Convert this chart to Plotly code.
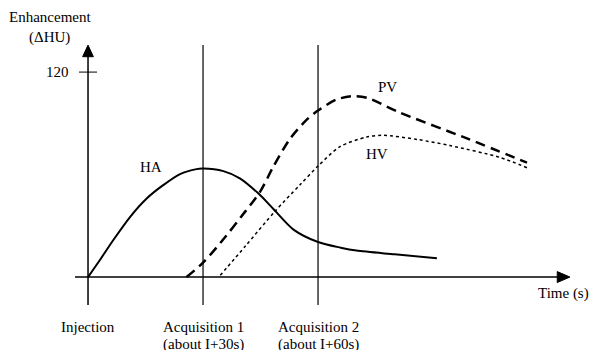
import plotly.graph_objects as go

# curves: time (s) vs enhancement (delta HU)
ha_t = [0, 3.1, 6.6, 11, 15.3, 19.6, 24, 28.3, 30, 35.3, 39.6, 44.4, 48.3, 53.6, 60, 65.9, 70, 80, 91]
ha_v = [0, 10, 21.7, 35.3, 46, 53.8, 60.3, 63.2, 63.5, 62, 57.8, 49, 40, 27.8, 20.5, 17.2, 15.5, 13.3, 11]

pv_t = [25.7, 30, 36, 40, 44.9, 48.3, 52.7, 57, 60, 64.9, 69.2, 72.7, 81, 99, 114.5]
pv_v = [0, 8.4, 24, 35.5, 50, 64.5, 81, 92, 97.5, 104, 105.9, 105, 96.6, 81, 67]

hv_t = [34.5, 41, 48.8, 55.3, 60, 65.7, 72.7, 77, 86, 94.4, 107.5, 114.5]
hv_v = [1, 18, 38.6, 54, 65, 76.3, 82, 83, 80.5, 77, 70, 64]

events = [0, 30, 60]
event_line1 = ["Injection", "Acquisition 1", "Acquisition 2"]
event_line2 = ["", "(about I+30s)", "(about I+60s)"]

FONT = "Liberation Serif, Times New Roman, serif"

fig = go.Figure()
fig.add_trace(go.Scatter(x=ha_t, y=ha_v, mode="lines",
                         line=dict(color="black", width=2, shape="spline", smoothing=0.8)))
fig.add_trace(go.Scatter(x=pv_t, y=pv_v, mode="lines",
                         line=dict(color="black", width=2.5, dash="10px,6px", shape="spline", smoothing=0.8)))
fig.add_trace(go.Scatter(x=hv_t, y=hv_v, mode="lines",
                         line=dict(color="black", width=1.5, dash="dot", shape="spline", smoothing=0.8)))

ln = dict(color="black", width=1.5)
shapes = []
# axes
shapes.append(dict(type="line", x0=-3.4, x1=123, y0=0, y1=0, line=ln))
shapes.append(dict(type="line", x0=0, x1=0, y0=-16.4, y1=133, line=ln))
# arrow heads
shapes.append(dict(type="path", path="M 125.7 0 L 122.4 3.2 L 122.4 -3.2 Z",
                   fillcolor="black", line=dict(color="black", width=1)))
shapes.append(dict(type="path", path="M 0 135.8 L 1.4 129 L -1.4 129 Z",
                   fillcolor="black", line=dict(color="black", width=1)))
# tick at 120
shapes.append(dict(type="line", x0=-2.35, x1=2.35, y0=120, y1=120, line=dict(color="black", width=1)))
# acquisition lines
for t in events[1:]:
    shapes.append(dict(type="line", x0=t, x1=t, y0=-16.4, y1=135.8, line=dict(color="black", width=1.2)))

ann = []
for t, l1, l2 in zip(events, event_line1, event_line2):
    ann.append(dict(x=t, y=-29.3, text=l1, showarrow=False, height=16))
    if l2:
        ann.append(dict(x=t, y=-39.2, text=l2, showarrow=False, height=16))
ann += [
    dict(x=-10, y=152, text="Enhancement", showarrow=False),
    dict(x=-10, y=140, text="(\u0394HU)", showarrow=False),
    dict(x=-8, y=120, text="120", showarrow=False),
    dict(x=124, y=-9.4, text="Time (s)", showarrow=False),
    dict(x=16.5, y=64.5, text="HA", showarrow=False),
    dict(x=78, y=111, text="PV", showarrow=False),
    dict(x=75.5, y=72, text="HV", showarrow=False),
]

fig.update_layout(
    width=591, height=350,
    margin=dict(l=0, r=0, t=0, b=0, pad=0, autoexpand=False),
    paper_bgcolor="white", plot_bgcolor="white",
    showlegend=False,
    font=dict(family=FONT, size=15, color="black"),
    xaxis=dict(range=[-22.96, 131.2], visible=False, fixedrange=True),
    yaxis=dict(range=[-42.7, 162.2], visible=False, fixedrange=True),
    shapes=shapes,
    annotations=ann,
)

# the page body has a default 8px margin; drop it so the figure fills the window
fig.write_html("out.html", config={"displayModeBar": False},
               post_script="document.body.style.margin='0';")
